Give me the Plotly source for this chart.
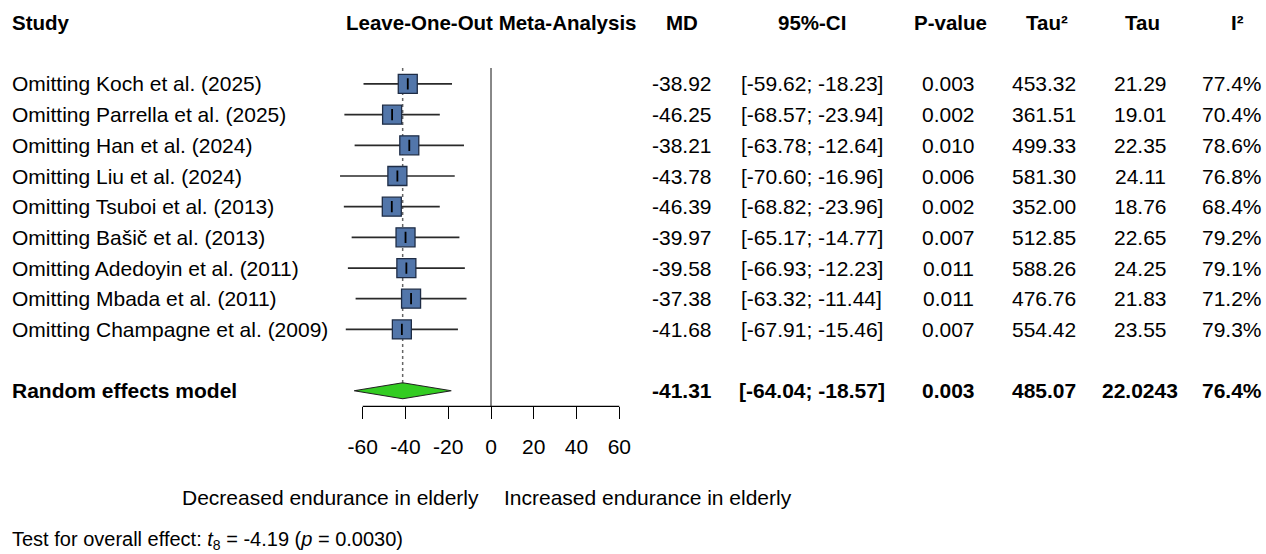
import plotly.graph_objects as go

# ---- data -------------------------------------------------------------
studies = [
    "Omitting Koch et al. (2025)",
    "Omitting Parrella et al. (2025)",
    "Omitting Han et al. (2024)",
    "Omitting Liu et al. (2024)",
    "Omitting Tsuboi et al. (2013)",
    "Omitting Bašič et al. (2013)",
    "Omitting Adedoyin et al. (2011)",
    "Omitting Mbada et al. (2011)",
    "Omitting Champagne et al. (2009)",
]
md = [-38.92, -46.25, -38.21, -43.78, -46.39, -39.97, -39.58, -37.38, -41.68]
ci_lower = [-59.62, -68.57, -63.78, -70.60, -68.82, -65.17, -66.93, -63.32, -67.91]
ci_upper = [-18.23, -23.94, -12.64, -16.96, -23.96, -14.77, -12.23, -11.44, -15.46]
p_values = ["0.003", "0.002", "0.010", "0.006", "0.002", "0.007", "0.011", "0.011", "0.007"]
tau2 = [453.32, 361.51, 499.33, 581.30, 352.00, 512.85, 588.26, 476.76, 554.42]
tau = [21.29, 19.01, 22.35, 24.11, 18.76, 22.65, 24.25, 21.83, 23.55]
i2 = [77.4, 70.4, 78.6, 76.8, 68.4, 79.2, 79.1, 71.2, 79.3]

pooled_label = "Random effects model"
pooled_md = -41.31
pooled_lower = -64.04
pooled_upper = -18.57
pooled_p = "0.003"
pooled_tau2 = 485.07
pooled_tau = 22.0243
pooled_i2 = 76.4

tick_vals = [-60, -40, -20, 0, 20, 40, 60]
headers = ["MD", "95%-CI", "P-value", "Tau²", "Tau", "I²"]

# ---- layout constants ------------------------------------------------
W, H = 1266, 554
ROW0_PX = 22.6          # pixel centre of header row
ROW_PX = 30.68          # pixel height of one row
FIRST_ROW = 2           # studies start on row 2
POOLED_ROW = 12
AXIS_ROW = 12.51
ZERO_PX = 491.0
PX_PER_UNIT = 128.3 / 60
X_HALF = 75             # forest x range is [-X_HALF, X_HALF]

FONT = "Arial, 'Liberation Sans', Helvetica, sans-serif"
FS = 21
SQUARE_FILL = "#5276AA"
SQUARE_EDGE = "#1E2C45"
DIAMOND_FILL = "#33CC22"

rows = [FIRST_ROW + i for i in range(len(studies))]
y_top = -ROW0_PX / ROW_PX
y_bottom = (H - ROW0_PX) / ROW_PX

def row_to_paper(r):
    return 1 - (ROW0_PX + ROW_PX * r) / H

def px_to_paper(px):
    return px / W

x_dom = [px_to_paper(ZERO_PX - X_HALF * PX_PER_UNIT),
         px_to_paper(ZERO_PX + X_HALF * PX_PER_UNIT)]

fig = go.Figure()

# zero reference line
fig.add_trace(go.Scatter(x=[0, 0], y=[1.48, AXIS_ROW], mode="lines",
                         line=dict(color="#555555", width=1.4),
                         hoverinfo="skip", showlegend=False))
# pooled estimate dotted line
fig.add_trace(go.Scatter(x=[pooled_md, pooled_md], y=[1.48, POOLED_ROW - 0.26],
                         mode="lines",
                         line=dict(color="#666666", width=1.5, dash="dot"),
                         hoverinfo="skip", showlegend=False))

# confidence intervals
for r, lo, hi in zip(rows, ci_lower, ci_upper):
    fig.add_trace(go.Scatter(x=[lo, hi], y=[r, r], mode="lines",
                             line=dict(color="#2a2a2a", width=1.7),
                             hoverinfo="skip", showlegend=False))

# study squares
fig.add_trace(go.Scatter(x=md, y=rows, mode="markers",
                         marker=dict(symbol="square", size=19, color=SQUARE_FILL,
                                     line=dict(color=SQUARE_EDGE, width=1.3)),
                         hoverinfo="skip", showlegend=False))
# point estimate tick inside the squares
fig.add_trace(go.Scatter(x=md, y=rows, mode="markers",
                         marker=dict(symbol="line-ns", size=8,
                                     line=dict(color="black", width=1.8)),
                         hoverinfo="skip", showlegend=False))

# pooled diamond
dh = 8.0 / ROW_PX
fig.add_trace(go.Scatter(
    x=[pooled_lower, pooled_md, pooled_upper, pooled_md, pooled_lower],
    y=[POOLED_ROW, POOLED_ROW - dh, POOLED_ROW, POOLED_ROW + dh, POOLED_ROW],
    mode="lines", fill="toself", fillcolor=DIAMOND_FILL,
    line=dict(color="#222222", width=1.2),
    hoverinfo="skip", showlegend=False))

# x axis line between the outer ticks
fig.add_trace(go.Scatter(x=[tick_vals[0], tick_vals[-1]], y=[AXIS_ROW, AXIS_ROW],
                         mode="lines", line=dict(color="black", width=1.4),
                         hoverinfo="skip", showlegend=False))

# ---- text columns -----------------------------------------------------
annotations = []

def add_text(text, x_px, r, anchor="center", bold=False, size=FS):
    if bold:
        text = "<b>" + text + "</b>"
    annotations.append(dict(text=text, x=px_to_paper(x_px), y=r, xref="paper", yref="y",
                            xanchor=anchor, yanchor="middle", showarrow=False,
                            font=dict(family=FONT, size=size, color="black")))

col_x = [682, 811.5, 948, 1044, 1140, 1232]
head_x = [681.5, 812, 950, 1047, 1142.5, 1237]

add_text("Study", 10, 0, anchor="left", bold=True, size=20.5)
add_text("Leave-One-Out Meta-Analysis", ZERO_PX, 0, bold=True, size=20.5)
for h, x in zip(headers, head_x):
    add_text(h, x, 0, bold=True, size=20.5)

for i, r in enumerate(rows):
    add_text(studies[i], 10, r, anchor="left")
    vals = [f"{md[i]:.2f}", f"[{ci_lower[i]:.2f}; {ci_upper[i]:.2f}]", p_values[i],
            f"{tau2[i]:.2f}", f"{tau[i]:.2f}", f"{i2[i]:.1f}%"]
    for v, x in zip(vals, col_x):
        add_text(v, x, r)

add_text(pooled_label, 10, POOLED_ROW, anchor="left", bold=True)
pooled_vals = [f"{pooled_md:.2f}", f"[{pooled_lower:.2f}; {pooled_upper:.2f}]", pooled_p,
               f"{pooled_tau2:.2f}", f"{pooled_tau:.4f}", f"{pooled_i2:.1f}%"]
for v, x in zip(pooled_vals, col_x):
    add_text(v, x, POOLED_ROW, bold=True)

label_row = (497 - ROW0_PX) / ROW_PX
add_text("Decreased endurance in elderly", 481, label_row, anchor="right")
add_text("Increased endurance in elderly", 502, label_row, anchor="left")

test_row = (540 - ROW0_PX) / ROW_PX
add_text("Test for overall effect: <i>t</i><sub>8</sub> = -4.19 (<i>p</i> = 0.0030)",
         10, test_row, anchor="left", size=20)

fig.update_layout(
    width=W, height=H,
    margin=dict(l=0, r=0, t=0, b=0),
    paper_bgcolor="white", plot_bgcolor="white",
    font=dict(family=FONT, size=FS, color="black"),
    showlegend=False,
    annotations=annotations,
    xaxis=dict(domain=x_dom, range=[-X_HALF, X_HALF], anchor="free",
               position=row_to_paper(AXIS_ROW),
               showgrid=False, zeroline=False, showline=False,
               ticks="outside", ticklen=12, tickwidth=1.4, tickcolor="black",
               tickvals=tick_vals, ticktext=[str(v) for v in tick_vals],
               tickfont=dict(family=FONT, size=FS, color="black"),
               ticklabelstandoff=9),
    yaxis=dict(domain=[0, 1], range=[y_bottom, y_top], visible=False,
               showgrid=False, zeroline=False),
)

fig.write_html("out.html")
